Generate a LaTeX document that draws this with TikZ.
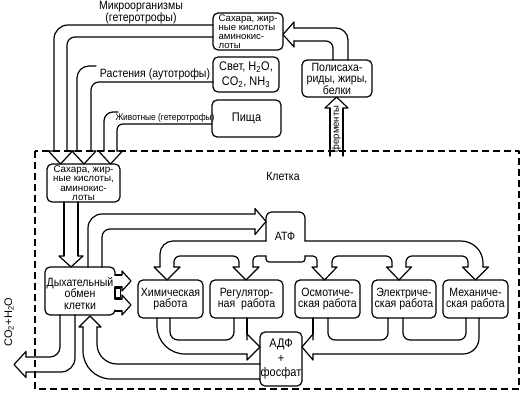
\documentclass[tikz,border=0pt]{standalone}
\usepackage{fontspec}
\setmainfont{Liberation Sans}
\newfontfamily\cnd{Liberation Sans}[FakeStretch=0.88]
% vertical hollow arrow head: cx, base y, tip y, head half width, shaft half width
\newcommand\hdv[5]{\draw ({#1-#5},#2) -- ({#1-#4},#2) -- (#1,#3) -- ({#1+#4},#2) -- ({#1+#5},#2);}
% horizontal hollow arrow head: cy, base x, tip x, head half width, shaft half width
\newcommand\hdh[5]{\draw (#2,{#1-#5}) -- (#2,{#1-#4}) -- (#3,#1) -- (#2,{#1+#4}) -- (#2,{#1+#5});}
\begin{document}
\begin{tikzpicture}[x=1pt,y=-1pt,line width=1.2pt,line join=round,line cap=round,
  bx/.style={draw,rounded corners=5pt,align=center,inner sep=0pt},
  big/.style={font=\cnd\fontsize{12}{11.5}\selectfont},
  lbl/.style={font=\cnd\fontsize{12}{12}\selectfont,align=center,inner sep=0pt}]
\fill[white] (0,0) rectangle (521,404);
\useasboundingbox (0,0) rectangle (521,404);

% cell border
\draw[dash pattern=on 7pt off 4pt,line cap=butt,line width=1.1pt] (35,151) rectangle (519,389);
\node[lbl] (cell) at (283,176) {Клетка};

% boxes
\node[bx,minimum width=70,minimum height=37,font=\fontsize{9.6}{8.9}\selectfont,align=left] (tsug) at (248,31.5) {Сахара, жир-\\ные кислоты\\аминокис-\\лоты};
\node[bx,minimum width=66,minimum height=35,font=\cnd\fontsize{12.5}{14.5}\selectfont] (light) at (246,74.5) {Свет, H\textsubscript{2}O,\\CO\textsubscript{2}, NH\textsubscript{3}};
\node[bx,minimum width=69,minimum height=37,font=\cnd\fontsize{12.5}{13}\selectfont] (food) at (246.5,118.5) {Пища};
\node[bx,minimum width=70,minimum height=37,big] (poly) at (337,78.5) {Полисаха-\\риды, жиры,\\белки};
\node[bx,minimum width=73,minimum height=38,font=\fontsize{9.8}{9.3}\selectfont] (isug) at (83.5,183) {Сахара, жир-\\ные кислоты,\\аминокис-\\лоты};
\node[bx,big,minimum width=65,minimum height=38] (chem) at (170.5,299) {Химическая\\работа};
\node[bx,big,minimum width=73,minimum height=38] (reg) at (246.5,299) {Регулятор-\\ная\ \ работа};
\node[bx,big,minimum width=65,minimum height=38] (osm) at (327.5,299) {Осмотиче-\\ская работа};
\node[bx,big,minimum width=64,minimum height=38] (el) at (404,299) {Электриче-\\ская работа};
\node[bx,big,minimum width=65,minimum height=38] (mech) at (475.5,299) {Механиче-\\ская работа};
\node[bx,minimum width=42,minimum height=54,font=\cnd\fontsize{12.5}{14.5}\selectfont] (adp) at (281,359) {АДФ\\+\\фосфат};

% respiration box with two arrow stubs on its right side
\draw[rounded corners=5pt] (115,275) -- (115,267) -- (45,267) -- (45,315) -- (115,315) -- (115,311);
\draw (115,287) -- (115,299);
\node[big,align=center,inner sep=0pt] (resp) at (80,293.5) {Дыхательный\\обмен\\клетки};
\draw (115,275) -- (122,275); \hdh{281}{122}{131}{10}{6}
\draw (115,287) -- (122,287);
\draw (115,299) -- (122,299); \hdh{305}{122}{131}{10}{6}
\draw (115,311) -- (122,311);
\draw (115,288.5) rectangle (120.5,297.5);

% labels of inputs
\node[lbl] (micro) at (141,12.5) {Микроорганизмы\\(гетеротрофы)};
\node[lbl] (plants) at (155,74) {Растения (аутотрофы)};
\node[lbl,font=\cnd\fontsize{9.5}{9.5}\selectfont] (animals) at (165,118) {Животные (гетеротрофы)};

% inputs into cell
\draw[rounded corners=14pt] (213,25) -- (54,25) -- (54,151);
\draw[rounded corners=8pt] (213,37) -- (67,37) -- (67,151);
\hdv{60.5}{151}{164}{12}{6.5}
\draw[rounded corners=12pt] (96,66) -- (77,66) -- (77,151);
\draw[rounded corners=8pt] (213,82) -- (91,82) -- (91,151);
\hdv{84}{151}{164}{12}{7}
\draw[rounded corners=9pt] (118,112) -- (104,112) -- (104,151);
\draw[rounded corners=6pt] (212,124) -- (117,124) -- (117,151);
\hdv{110.5}{151}{164}{12}{6.5}

% polysaccharides -> sugars
\draw[rounded corners=12pt] (348,60) -- (348,28) -- (294,28);
\draw[rounded corners=7pt] (333,60) -- (333,41) -- (294,41);
\hdh{34.5}{294}{283}{12.5}{6.5}

% enzymes
\draw (330,156) -- (330,108);
\draw (343,156) -- (343,108);
\hdv{336.5}{108}{97}{11.5}{6.5}
\node[rotate=90,font=\fontsize{9.5}{9.5}\selectfont,inner sep=0pt] (ferm) at (336.5,129) {ферменты};

% sugars -> respiration
\draw (64,202) -- (64,256);
\draw (78,202) -- (78,256);
\hdv{71}{256}{267}{12}{7}

% respiration -> ATP
\draw[rounded corners=14pt] (88,267) -- (88,214) -- (255,214);
\draw[rounded corners=8pt] (102,267) -- (102,229) -- (255,229);
\hdh{221.5}{255}{266}{13}{7.5}

% ATP box
\draw[rounded corners=6pt] (266,241) -- (266,212) -- (305,212) -- (305,241);
\draw[rounded corners=3pt] (266,256) -- (266,262) -- (305,262) -- (305,256);
\node[big,inner sep=0pt] (atp) at (285,236) {АТФ};

% ATP distribution
\draw[rounded corners=13pt] (266,241) -- (160,241) -- (160,267);
\hdv{167}{267}{280}{13}{7}
\draw[rounded corners=6pt] (174,267) -- (174,256) -- (239,256) -- (239,267);
\hdv{246}{267}{280}{13}{7}
\draw[rounded corners=4pt] (253,267) -- (253,256) -- (266,256);
\draw[rounded corners=22pt] (305,241) -- (483,241) -- (483,267);
\draw[rounded corners=4pt] (305,256) -- (317,256) -- (317,267);
\hdv{324.5}{267}{280}{12.5}{7.5}
\draw[rounded corners=6pt] (332,267) -- (332,256) -- (392,256) -- (392,267);
\hdv{399}{267}{280}{12.5}{7}
\draw[rounded corners=6pt] (406,267) -- (406,256) -- (468,256) -- (468,267);
\hdv{475.5}{267}{280}{13}{7.5}

% returns to ADP (left)
\draw[rounded corners=28pt] (157,318) -- (157,354) -- (247,354);
\draw[rounded corners=8pt] (170,318) -- (170,340) -- (234,340) -- (234,318);
\draw (247,318) -- (247,334);
\hdh{347}{247}{260}{13}{7}
% returns to ADP (right)
\draw (313,318) -- (313,334);
\hdh{347}{313}{302}{13}{7}
\draw[rounded corners=7pt] (328,318) -- (328,340) -- (388,340) -- (388,318);
\draw[rounded corners=7pt] (403,318) -- (403,340) -- (466,340) -- (466,318);
\draw[rounded corners=16pt] (479,318) -- (479,354) -- (313,354);

% ADP -> respiration
\draw[rounded corners=20pt] (260,364) -- (97,364) -- (97,327);
\draw[rounded corners=28pt] (260,379) -- (83,379) -- (83,327);
\hdv{90}{327}{316}{11}{7}

% CO2 + H2O out
\draw[rounded corners=10pt] (60,315) -- (60,357) -- (26,357);
\draw[rounded corners=14pt] (75,315) -- (75,372) -- (26,372);
\hdh{364.5}{26}{14}{13}{7.5}
\node[rotate=90,font=\fontsize{11}{11}\selectfont,inner sep=0pt] (co2) at (9,322) {CO\textsubscript{2}+H\textsubscript{2}O};
\end{tikzpicture}
\end{document}
